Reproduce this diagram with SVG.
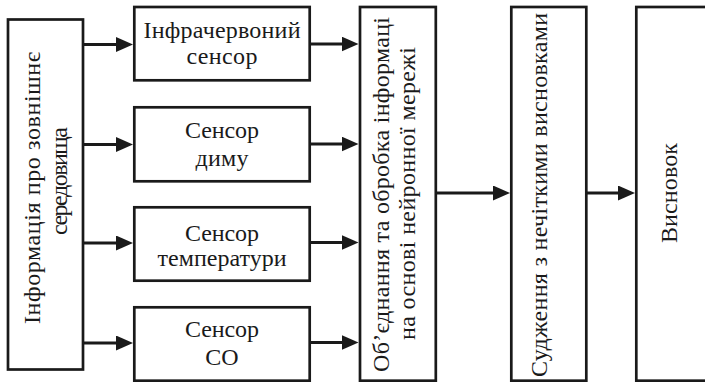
<svg xmlns="http://www.w3.org/2000/svg" width="705" height="382" viewBox="0 0 705 382">
<style>
.box{fill:#fff;stroke:#1a1a1a;stroke-width:2.7}
.t{font-family:'Liberation Serif','Times New Roman',serif;font-size:24px;fill:#1a1a1a}
.c{text-anchor:middle}
.ln{stroke:#1a1a1a;stroke-width:3;fill:none}
</style>
<defs>
<marker id="ah" markerUnits="userSpaceOnUse" markerWidth="17" markerHeight="15" refX="11" refY="7.5" orient="auto" viewBox="0 0 17 15">
<path d="M0,0 L17,7.5 L0,15 Z" fill="#1a1a1a"/>
</marker>
</defs>
<g id="connectors">
<line class="ln" x1="83" y1="44.5" x2="127" y2="44.5" marker-end="url(#ah)"/>
<line class="ln" x1="83" y1="144.5" x2="127" y2="144.5" marker-end="url(#ah)"/>
<line class="ln" x1="83" y1="243" x2="127" y2="243" marker-end="url(#ah)"/>
<line class="ln" x1="83" y1="343" x2="127" y2="343" marker-end="url(#ah)"/>
<line class="ln" x1="310" y1="44" x2="352.5" y2="44" marker-end="url(#ah)"/>
<line class="ln" x1="310" y1="144" x2="352.5" y2="144" marker-end="url(#ah)"/>
<line class="ln" x1="310" y1="242.5" x2="352.5" y2="242.5" marker-end="url(#ah)"/>
<line class="ln" x1="310" y1="342.5" x2="352.5" y2="342.5" marker-end="url(#ah)"/>
<line class="ln" x1="436" y1="193" x2="504" y2="193" marker-end="url(#ah)"/>
<line class="ln" x1="586" y1="193" x2="629" y2="193" marker-end="url(#ah)"/>
</g>
<g id="env">
<rect class="box" x="8" y="19.5" width="75" height="350"/>
<text class="t" transform="translate(40,324) rotate(-90)" textLength="272" lengthAdjust="spacing">Інформація про зовнішнє</text>
<text class="t c" transform="translate(67,181) rotate(-90)" textLength="108" lengthAdjust="spacing">середовища</text>
</g>
<g id="ir">
<rect class="box" x="134.3" y="7" width="175.4" height="73.3"/>
<text class="t c" x="222" y="38" textLength="157" lengthAdjust="spacing">Інфрачервоний</text>
<text class="t c" x="222" y="64" textLength="71" lengthAdjust="spacing">сенсор</text>
</g>
<g id="smoke">
<rect class="box" x="134.3" y="107.3" width="175.4" height="74"/>
<text class="t c" x="222" y="138" textLength="74" lengthAdjust="spacing">Сенсор</text>
<text class="t c" x="222" y="166" textLength="53" lengthAdjust="spacing">диму</text>
</g>
<g id="temp">
<rect class="box" x="134.3" y="207.3" width="175.4" height="73.4"/>
<text class="t c" x="222" y="241" textLength="74" lengthAdjust="spacing">Сенсор</text>
<text class="t c" x="222" y="266" textLength="129" lengthAdjust="spacing">температури</text>
</g>
<g id="co">
<rect class="box" x="134.3" y="307.3" width="175.4" height="73.4"/>
<text class="t c" x="222" y="337" textLength="74" lengthAdjust="spacing">Сенсор</text>
<text class="t c" x="222" y="365">CO</text>
</g>
<g id="fusion">
<rect class="box" x="360" y="7" width="75.8" height="373.7"/>
<text class="t" transform="translate(389,372) rotate(-90)" textLength="355" lengthAdjust="spacing">Об’єднання та обробка інформаці</text>
<text class="t" transform="translate(415,340) rotate(-90)" textLength="293" lengthAdjust="spacing">на основі нейронної мережі</text>
</g>
<g id="fuzzy">
<rect class="box" x="511.3" y="7" width="75" height="373.7"/>
<text class="t" transform="translate(547,377) rotate(-90)" textLength="364" lengthAdjust="spacing">Судження з нечіткими висновками</text>
</g>
<g id="conclusion">
<rect class="box" x="636.3" y="7" width="90" height="373.7"/>
<text class="t" transform="translate(677,243) rotate(-90)" textLength="100" lengthAdjust="spacing">Висновок</text>
</g>
</svg>
